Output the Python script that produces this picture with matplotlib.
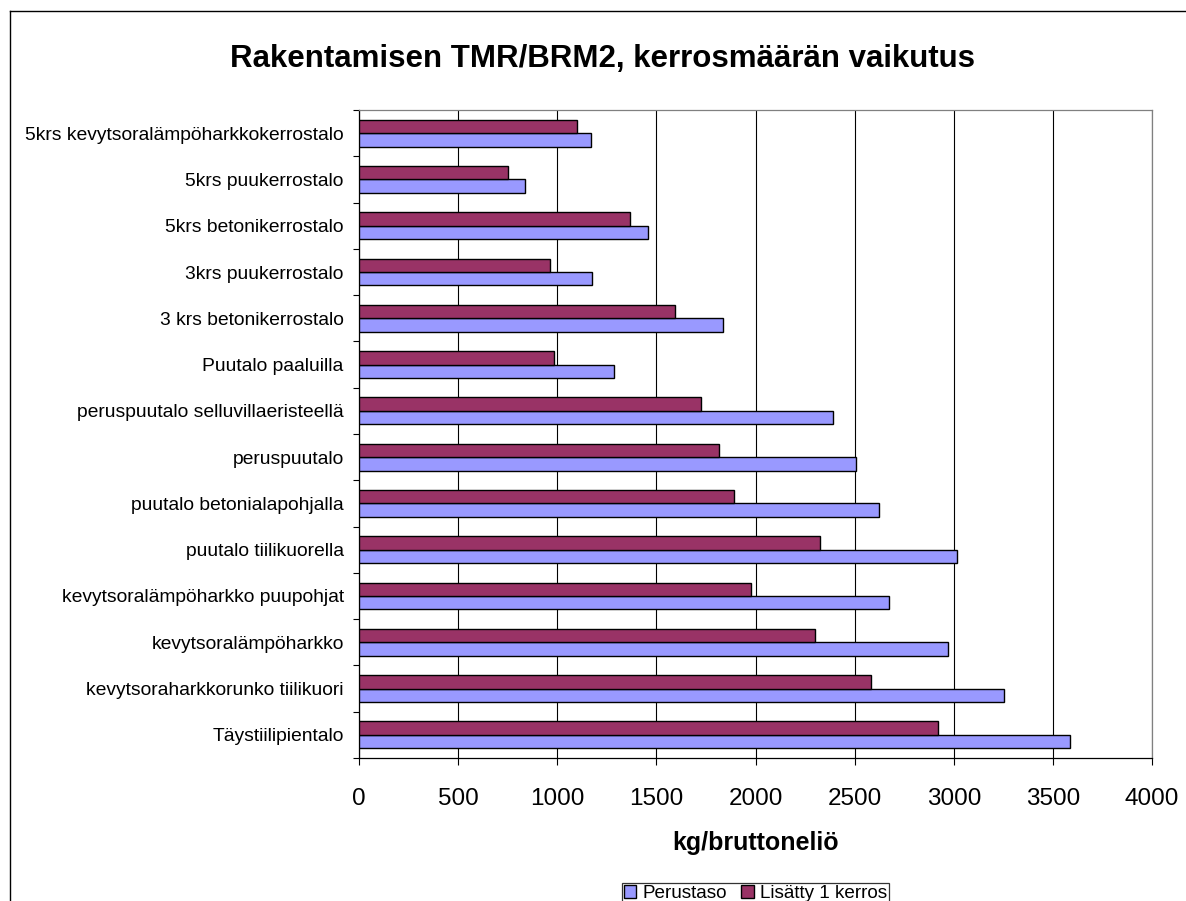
import matplotlib
matplotlib.use("Agg")
import matplotlib.pyplot as plt
from matplotlib.lines import Line2D
import numpy as np

plt.rcParams['font.family'] = ['Liberation Sans', 'DejaVu Sans']

# Categories listed bottom -> top
categories = [
    "Täystiilipientalo",
    "kevytsoraharkkorunko tiilikuori",
    "kevytsoralämpöharkko",
    "kevytsoralämpöharkko puupohjat",
    "puutalo tiilikuorella",
    "puutalo betonialapohjalla",
    "peruspuutalo",
    "peruspuutalo selluvillaeristeellä",
    "Puutalo paaluilla",
    "3 krs betonikerrostalo",
    "3krs puukerrostalo",
    "5krs betonikerrostalo",
    "5krs puukerrostalo",
    "5krs kevytsoralämpöharkkokerrostalo",
]
perustaso = [3587, 3251, 2969, 2672, 3014, 2623, 2509, 2392, 1286, 1835, 1177, 1459, 836, 1172]
lisatty = [2919, 2585, 2298, 1977, 2323, 1893, 1814, 1725, 984, 1596, 963, 1365, 752, 1098]
series_names = ["Perustaso", "Lisätty 1 kerros"]
xticks = [0, 500, 1000, 1500, 2000, 2500, 3000, 3500, 4000]
title = "Rakentamisen TMR/BRM2, kerrosmäärän vaikutus"
xlabel = "kg/bruttoneliö"

W, H = 1186, 901
fig = plt.figure(figsize=(W / 100, H / 100), dpi=100)
fig.patch.set_facecolor("white")

L, R, T, B = 359, 1152, 110, 758
ax = fig.add_axes([L / W, 1 - B / H, (R - L) / W, (B - T) / H])

y = np.arange(len(categories))
bh = 0.29
ax.barh(y - bh / 2, perustaso, height=bh, color="#9999FF", edgecolor="black",
        linewidth=1.0, label=series_names[0], zorder=3)
ax.barh(y + bh / 2, lisatty, height=bh, color="#993366", edgecolor="black",
        linewidth=1.0, label=series_names[1], zorder=3)

ax.set_xlim(0, 4000)
ax.set_ylim(-0.5, len(categories) - 0.5)
ax.set_xticks(xticks)
ax.set_xticklabels([str(v) for v in xticks], fontsize=17.5)
ax.tick_params(axis="x", direction="out", length=5, width=0.8, pad=16.5, color="black")

ax.set_yticks(y)
ax.set_yticklabels(categories, fontsize=13.9)
ax.set_yticks(np.arange(len(categories) + 1) - 0.5, minor=True)
ax.tick_params(axis="y", which="major", length=0, pad=11)
ax.tick_params(axis="y", which="minor", direction="out", length=4.5, width=0.8, color="black")

ax.xaxis.grid(True, color="black", linewidth=0.8, zorder=0)
ax.set_axisbelow(True)
for s in ["left", "bottom"]:
    ax.spines[s].set_color("black")
    ax.spines[s].set_linewidth(0.9)
for s in ["top", "right"]:
    ax.spines[s].set_color("#808080")
    ax.spines[s].set_linewidth(0.9)

fig.text(602 / W, 1 - 67 / H, title, ha="center", va="baseline",
         fontsize=22.5, fontweight="bold")
fig.text((L + R) / 2 / W, 1 - 850 / H, xlabel, ha="center", va="baseline",
         fontsize=18, fontweight="bold")

leg = fig.legend(loc="upper center", bbox_to_anchor=((L + R) / 2 / W, 1 - 874 / H),
                 ncol=2, fontsize=13.6, frameon=True, fancybox=False,
                 edgecolor="black", borderpad=0.08, handlelength=0.65,
                 handleheight=0.65, handletextpad=0.35, columnspacing=0.75)
leg.get_frame().set_linewidth(0.9)

# outer chart border (left and top edges visible)
fig.add_artist(Line2D([9.5 / W, 9.5 / W], [0, 1 - 11 / H], transform=fig.transFigure,
                      color="black", linewidth=1.0))
fig.add_artist(Line2D([9.5 / W, 1], [1 - 11 / H, 1 - 11 / H], transform=fig.transFigure,
                      color="black", linewidth=1.0))

fig.savefig("out.png", dpi=100)
